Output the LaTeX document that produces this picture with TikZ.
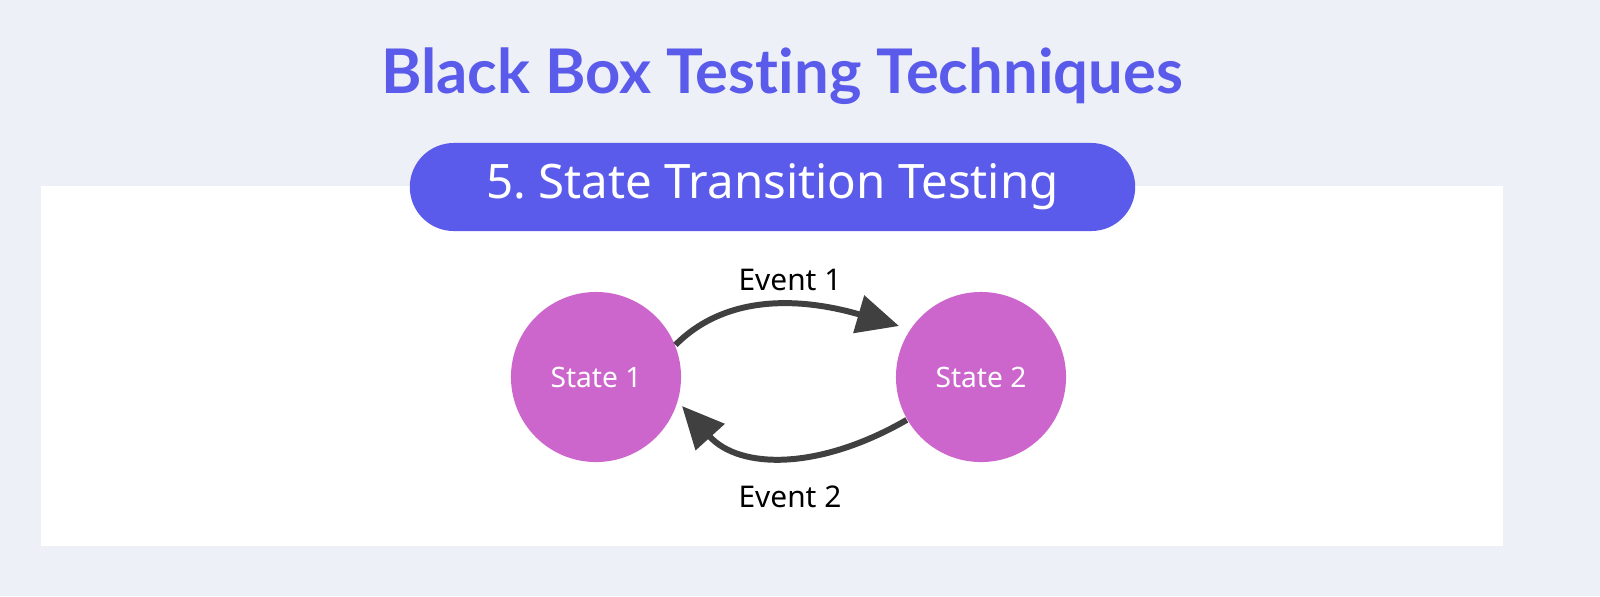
\documentclass[tikz,border=0pt]{standalone}
\usepackage{fontspec}
\setmainfont{Noto Sans}
\newfontfamily\titlefont[Ligatures=NoCommon]{Lato}
\usetikzlibrary{arrows.meta}
\definecolor{bg}{HTML}{EEF0F8}
\definecolor{indigo}{HTML}{5B5BEB}
\definecolor{orchid}{HTML}{CC66CC}
\definecolor{arr}{HTML}{404040}
\tikzset{
 state/.style={circle,fill=orchid,minimum size=1.7cm,inner sep=0pt,text=white,font=\fontsize{8}{10}\selectfont},
 trans/.style={draw=arr,line width=1.7pt,-{Triangle[length=0.42cm,width=0.38cm]}},
 evlabel/.style={font=\fontsize{8.5}{11}\selectfont,text=black}
}
\begin{document}
\begin{tikzpicture}[x=0.01cm,y=-0.01cm]
\useasboundingbox (0,0) rectangle (1600,596);
\fill[bg] (0,0) rectangle (1600,596);
\fill[white] (41,186) rectangle (1503,546);
\node[fill=indigo,rounded corners=0.44cm,minimum width=7.25cm,minimum height=0.88cm,text=white,font=\fontsize{13.5}{17}\selectfont] (pill) at (772.5,187) {5.\ State Transition Testing};
\node[text=indigo,font=\titlefont\fontsize{17.5}{22}\selectfont\bfseries] (title) at (782,76) {Black Box Testing Techniques};
\node[state] (s1) at (596,377) {State 1};
\node[state] (s2) at (981,377) {State 2};
\coordinate (t1) at (899,326);
\coordinate (t2) at (682,406);
\draw[trans] (s1.22) .. controls (730,290) and (810,300) .. (t1);
\draw[trans] (s2.210) .. controls (820,470) and (740,470) .. (t2);
\node[evlabel] (e1) at (790,280) {Event 1};
\node[evlabel] (e2) at (790,497) {Event 2};
\end{tikzpicture}
\end{document}
